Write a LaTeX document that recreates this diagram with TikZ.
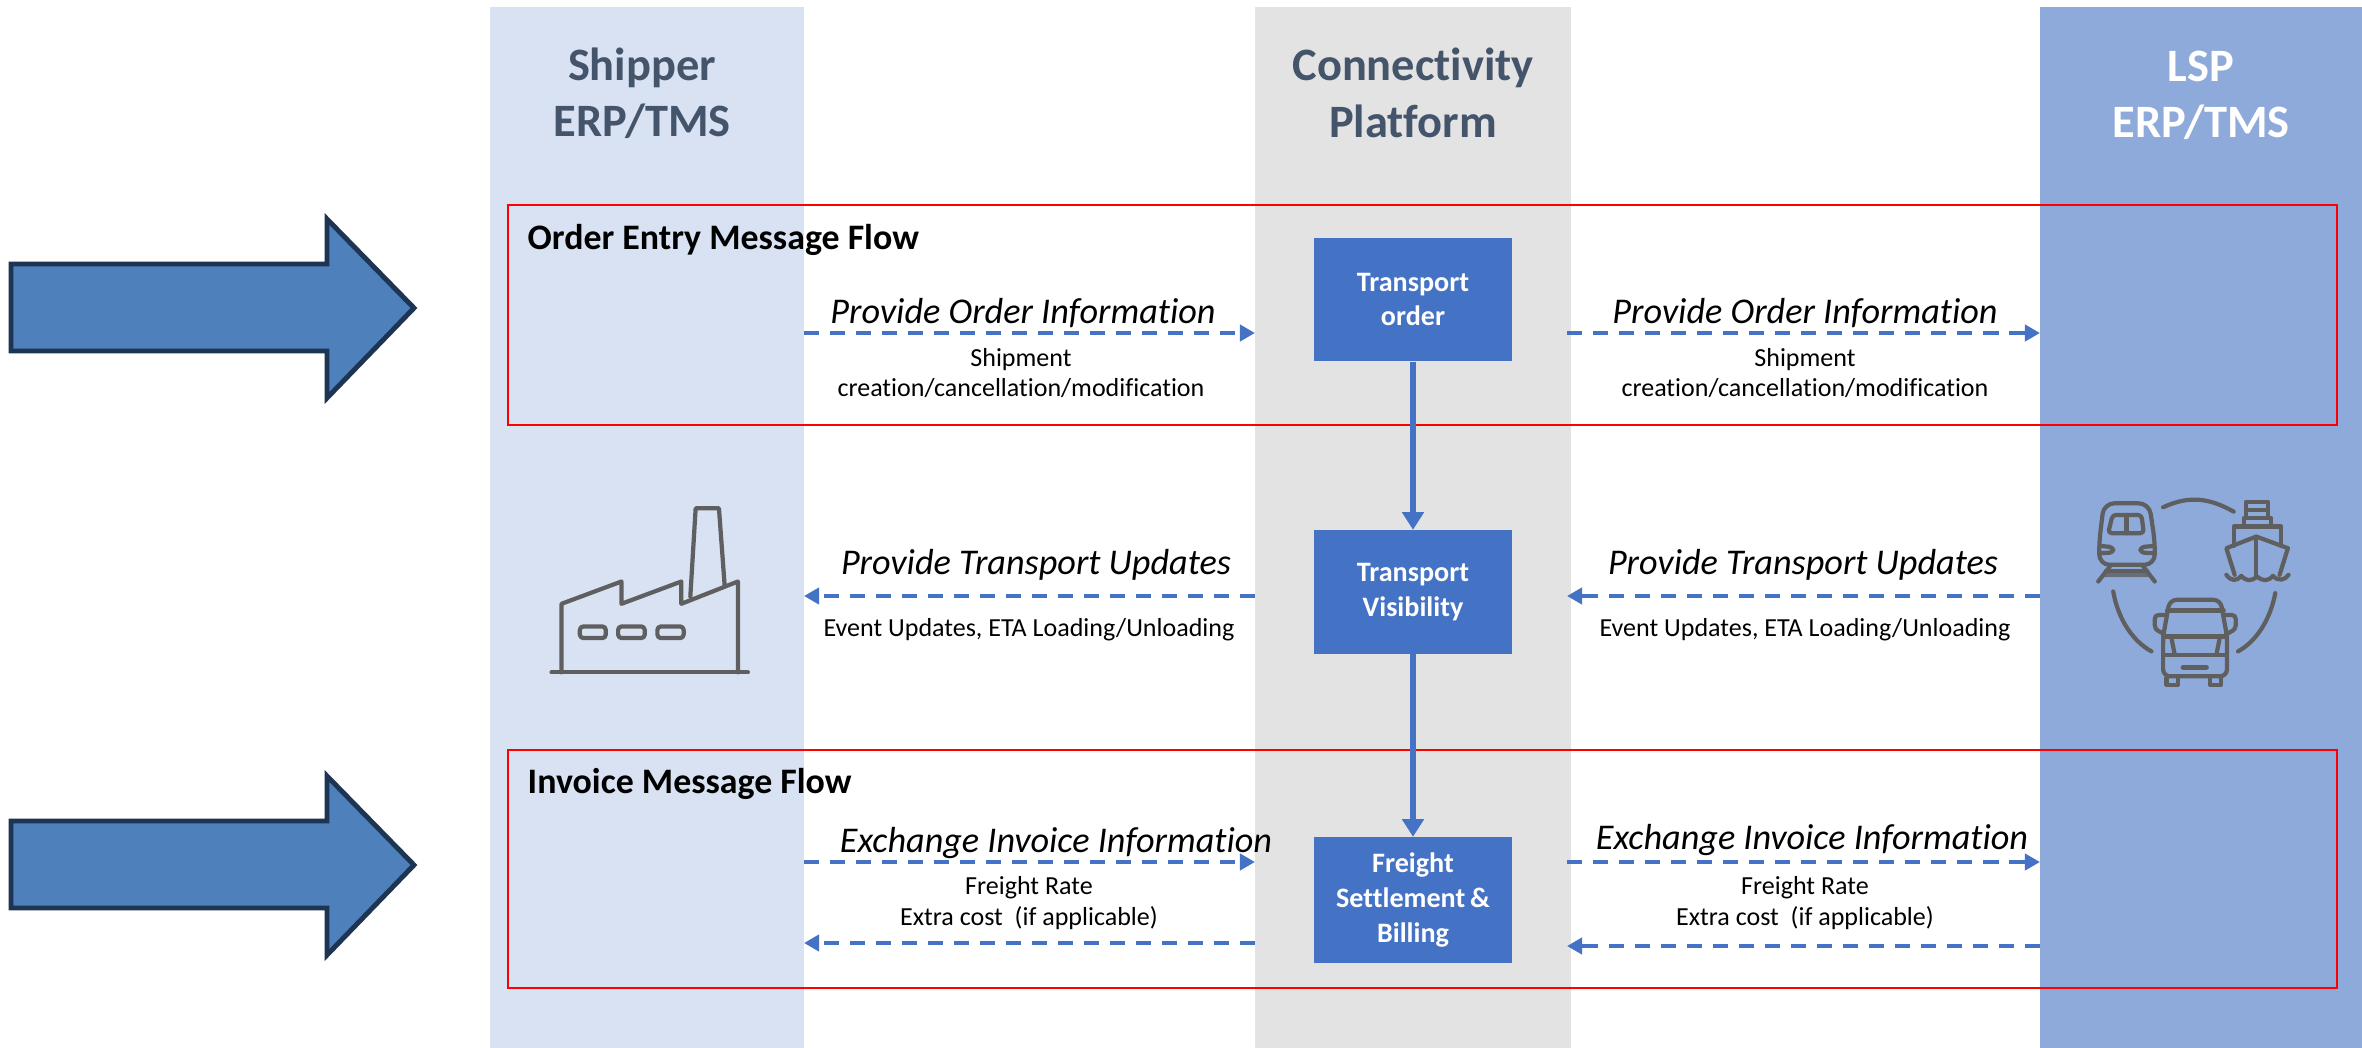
\documentclass[tikz,border=0pt]{standalone}
\usepackage{xcolor}
\usepackage{fontspec}
\setmainfont{Carlito}[Ligatures=NoCommon]
\usetikzlibrary{arrows.meta}
\definecolor{ShipperBand}{HTML}{d9e2f3}
\definecolor{PlatformBand}{HTML}{e3e3e3}
\definecolor{LspBand}{HTML}{8eaadb}
\definecolor{BoxBlue}{HTML}{4472c4}
\definecolor{HeadSlate}{HTML}{44546a}
\definecolor{BigFill}{HTML}{4e80bc}
\definecolor{BigEdge}{HTML}{1d3552}
\definecolor{IconGrey}{HTML}{5f5f5f}
\tikzset{
  heading/.style={align=center, font=\fontsize{13.2}{16}\selectfont\bfseries, text=HeadSlate},
  stagebox/.style={fill=BoxBlue, text=white, align=center, minimum width=1.98cm, minimum height=1.23cm, inner sep=0pt, font=\fontsize{8}{9.9}\selectfont\bfseries},
  flowframe/.style={draw=red, line width=0.5pt},
  flowtitle/.style={anchor=west, inner sep=0pt, font=\fontsize{10.2}{12}\selectfont\bfseries},
  msgarrow/.style={draw=BoxBlue, line width=1.1pt, dash pattern=on 4.3pt off 3.1pt, -{Triangle[length=4.3pt,width=4.6pt]}},
  linkarrow/.style={draw=BoxBlue, line width=1.7pt, -{Triangle[length=5pt,width=6pt]}},
  msgtitle/.style={font=\fontsize{10.3}{12}\selectfont\itshape},
  msgnote/.style={align=center, font=\fontsize{7.4}{8.6}\selectfont},
  bigarrow/.style={draw=BigEdge, fill=BigFill, line width=1.4pt, miter limit=10},
  icon/.style={draw=IconGrey, line width=1.2pt, line join=round, line cap=round},
}
\begin{document}
\begin{tikzpicture}[x=0.01cm, y=-0.01cm]%
\useasboundingbox (0,0) rectangle (2362,1048);%
\fill[ShipperBand] (490,7) rectangle (804,1048);%
\fill[PlatformBand] (1255,7) rectangle (1571,1048);%
\fill[LspBand] (2040,7) rectangle (2362,1048);%
\node[heading] (shipperhead) at (642,93) {Shipper\\ERP/TMS};%
\node[heading] (platformhead) at (1413,93) {Connectivity\\Platform};%
\node[heading, text=white] (lsphead) at (2201,95) {LSP\\ERP/TMS};%
\draw[bigarrow] (11,264) -- (327,264) -- (327,219) -- (414,308) -- (327,398) -- (327,351) -- (11,351) -- cycle;%
\draw[bigarrow] (11,821) -- (327,821) -- (327,776) -- (414,865) -- (327,955) -- (327,908) -- (11,908) -- cycle;%
\draw[flowframe] (508,205) rectangle (2337,425);%
\draw[flowframe] (508,750) rectangle (2337,988);%
\node[flowtitle] (ordertitle) at (527,240) {Order Entry Message Flow};%
\node[flowtitle] (invoicetitle) at (527,784) {Invoice Message Flow};%
\node[stagebox] (order) at (1413,299.5) {Transport\\order};%
\node[stagebox] (visibility) at (1413,592) {Transport\\Visibility};%
\node[stagebox, minimum height=1.25cm] (billing) at (1413,900) {Freight\\Settlement\,\&\\Billing};%
\draw[linkarrow] (order) -- (visibility);%
\draw[linkarrow] (visibility) -- (billing);%
\coordinate (shipA) at (804,333);%
\coordinate (platA) at (1255,333);%
\coordinate (platB) at (1567,333);%
\coordinate (lspA) at (2040,333);%
\coordinate (shipC) at (804,596);%
\coordinate (platC) at (1255,596);%
\coordinate (platD) at (1567,596);%
\coordinate (lspC) at (2040,596);%
\coordinate (shipE) at (804,862);%
\coordinate (platE) at (1255,862);%
\coordinate (platF) at (1567,862);%
\coordinate (lspE) at (2040,862);%
\coordinate (shipG) at (804,943);%
\coordinate (platG) at (1255,943);%
\coordinate (platH) at (1567,946);%
\coordinate (lspG) at (2040,946);%
\draw[msgarrow] (shipA) -- (platA);%
\draw[msgarrow] (platB) -- (lspA);%
\draw[msgarrow] (platC) -- (shipC);%
\draw[msgarrow] (lspC) -- (platD);%
\draw[msgarrow] (shipE) -- (platE);%
\draw[msgarrow] (platF) -- (lspE);%
\draw[msgarrow] (platG) -- (shipG);%
\draw[msgarrow] (lspG) -- (platH);%
\node[msgtitle] (ordermsgL) at (1023,313) {Provide Order Information};%
\node[msgtitle] (ordermsgR) at (1805,313) {Provide Order Information};%
\node[msgnote] (ordernoteL) at (1021,373) {Shipment\\creation/cancellation/modification};%
\node[msgnote] (ordernoteR) at (1805,373) {Shipment\\creation/cancellation/modification};%
\node[msgtitle] (updatemsgL) at (1036,565) {Provide Transport Updates};%
\node[msgtitle] (updatemsgR) at (1803,565) {Provide Transport Updates};%
\node[msgnote] (updatenoteL) at (1029,630) {Event Updates, ETA Loading/Unloading};%
\node[msgnote] (updatenoteR) at (1805,630) {Event Updates, ETA Loading/Unloading};%
\node[msgtitle] (invoicemsgL) at (1056,843) {Exchange Invoice Information};%
\node[msgtitle] (invoicemsgR) at (1812,840) {Exchange Invoice Information};%
\node[msgnote] (invoicenoteL) at (1029,903) {Freight Rate\\Extra cost~~(if applicable)};%
\node[msgnote] (invoicenoteR) at (1805,903) {Freight Rate\\Extra cost~~(if applicable)};%
% factory
\begin{scope}[shift={(480,480)}, x=0.00333cm, y=-0.00333cm]%
\draw[icon] (215,578) -- (805,578);%
\draw[icon] (245,578) -- (245,372) -- (425,305) -- (425,372) -- (605,305) -- (605,372) -- (775,305) -- (775,578);%
\draw[icon] (632,350) -- (648,85) -- (718,85) -- (735,315);%
\draw[icon, rounded corners=1pt] (300,440) rectangle (378,475);%
\draw[icon, rounded corners=1pt] (415,440) rectangle (495,475);%
\draw[icon, rounded corners=1pt] (533,440) rectangle (612,475);%
\end{scope}%
% train, ship, truck
\begin{scope}[shift={(2030,470)}, x=0.00333cm, y=-0.00333cm]%
\draw[icon] (400,112) .. controls (480,75) and (540,85) .. (612,125);%
\draw[icon] (250,365) .. controls (265,450) and (310,515) .. (365,545);%
\draw[icon] (737,370) .. controls (722,450) and (680,515) .. (625,545);%
\draw[icon, rounded corners=3pt] (208,285) -- (208,215) -- (222,100) -- (358,100) -- (375,215) -- (375,285) -- cycle;%
\draw[icon, rounded corners=1pt] (235,190) -- (248,135) -- (335,135) -- (342,190) -- cycle;%
\draw[icon] (290,135) -- (290,190);%
\draw[icon, rounded corners=1pt] (210,228) -- (250,232) -- (250,248) -- (212,250);%
\draw[icon, rounded corners=1pt] (372,228) -- (332,232) -- (332,248) -- (370,250);%
\fill[IconGrey!80!LspBand] (228,305) -- (355,305) -- (368,322) -- (215,322) -- cycle;%
\draw[icon] (205,335) -- (240,290);%
\draw[icon] (375,335) -- (340,290);%
\draw[icon] (228,303) -- (352,303);%
\draw[icon] (650,95) rectangle (715,145);%
\draw[icon] (655,120) -- (710,120);%
\draw[icon] (642,170) -- (642,145) -- (725,145) -- (725,170);%
\draw[icon] (612,228) -- (612,170) -- (755,170) -- (755,228);%
\draw[icon] (615,315) -- (590,235) -- (680,200) -- (775,235) -- (750,315);%
\draw[icon] (680,200) -- (680,315);%
\draw[icon] (590,315) .. controls (605,335) and (620,335) .. (635,318) .. controls (650,335) and (665,335) .. (682,320) .. controls (700,335) and (715,335) .. (730,318) .. controls (745,335) and (765,332) .. (777,315);%
\draw[icon, rounded corners=2pt] (400,620) -- (400,500) -- (420,390) -- (572,390) -- (592,500) -- (592,620) -- cycle;%
\draw[icon] (412,422) -- (582,422);%
\draw[icon] (400,500) -- (592,500);%
\draw[icon] (405,555) -- (588,555);%
\draw[icon] (425,505) -- (435,555);%
\draw[icon] (570,505) -- (560,555);%
\draw[icon, rounded corners=1pt] (408,436) -- (375,436) -- (375,478) -- (402,492);%
\draw[icon, rounded corners=1pt] (585,436) -- (618,436) -- (618,478) -- (592,492);%
\draw[icon, line width=1.4pt] (460,593) -- (530,593);%
\draw[icon] (410,625) -- (410,645) -- (445,645) -- (445,625);%
\draw[icon] (540,625) -- (540,645) -- (575,645) -- (575,625);%
\end{scope}%
\end{tikzpicture}
\end{document}
